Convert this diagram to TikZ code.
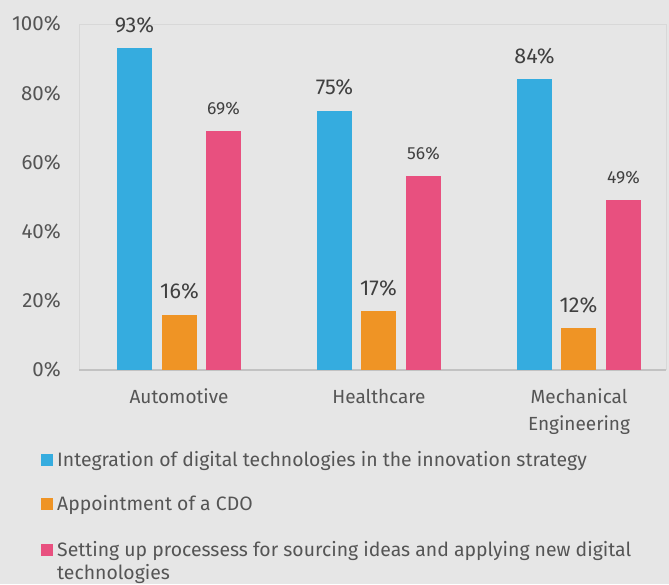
\documentclass[tikz,border=0pt]{standalone}
\usepackage{fontspec}
\setmainfont{Fira Sans}
\definecolor{bgc}{HTML}{E6E6E6}
\definecolor{framec}{HTML}{D8D8D8}
\definecolor{cblue}{HTML}{35ACDF}
\definecolor{corange}{HTML}{EF9425}
\definecolor{cpink}{HTML}{E8507F}
\definecolor{txt}{HTML}{555555}
\definecolor{vtxt}{HTML}{404040}
\begin{document}
\begin{tikzpicture}[x=1pt,y=-1pt,
  tick/.style={anchor=east,inner sep=0pt,text=txt,font=\fontsize{20.5}{24}\selectfont},
  cat/.style={anchor=base,inner sep=0pt,text=txt,font=\fontsize{19}{22}\selectfont,align=center},
  bigval/.style={inner sep=0pt,text=vtxt,font=\fontsize{21.5}{24}\selectfont},
  smallval/.style={inner sep=0pt,text=vtxt,font=\fontsize{17.5}{20}\selectfont},
  legtext/.style={anchor=base west,inner sep=0pt,text=txt,font=\fontsize{19.4}{23}\selectfont,align=left},
  legsq/.style={minimum size=12pt,inner sep=0pt,anchor=south west}]
\fill[bgc] (0,0) rectangle (669,584);
\useasboundingbox (0,0) rectangle (669,584);
% plot frame
\draw[framec,line width=1pt] (79,370) -- (79,24) -- (666,24) -- (666,370);
\draw[framec!90!black,line width=1.5pt] (79,370) -- (666,370);
% y ticks
\foreach \v/\n in {0/t0,20/t20,40/t40,60/t60,80/t80,100/t100}
  \node[tick] (\n) at (61,{370-\v*3.46}) {\v\%};
% bars
\foreach \x/\v/\c/\s/\n in {117/93/cblue/bigval/a1,162/16/corange/bigval/a2,206/69/cpink/smallval/a3,
  317/75/cblue/bigval/h1,361/17/corange/bigval/h2,406/56/cpink/smallval/h3,
  517/84/cblue/bigval/m1,561/12/corange/bigval/m2,606/49/cpink/smallval/m3}{
  \fill[\c] (\x,370) rectangle ++(35,{-\v*3.46});
  \node[\s] (\n) at ({\x+17.5},{370-\v*3.46-23}) {\v\%};
}
% categories
\node[cat] (c1) at (179,403) {Automotive};
\node[cat] (c2) at (379,403) {Healthcare};
\node[cat] (c3) at (579,403) {Mechanical};
\node[cat] (c3b) at (579,430) {Engineering};
% legend
\node[legsq,fill=cblue] (s1) at (41,466) {};
\node[legtext] (l1) at (57,466) {Integration of digital technologies in the innovation strategy};
\node[legsq,fill=corange] (s2) at (41,510) {};
\node[legtext] (l2) at (57,510) {Appointment of a CDO};
\node[legsq,fill=cpink] (s3) at (41,556) {};
\node[legtext] (l3) at (57,556) {Setting up processess for sourcing ideas and applying new digital};
\node[legtext] (l3b) at (57,579) {technologies};
\end{tikzpicture}
\end{document}
